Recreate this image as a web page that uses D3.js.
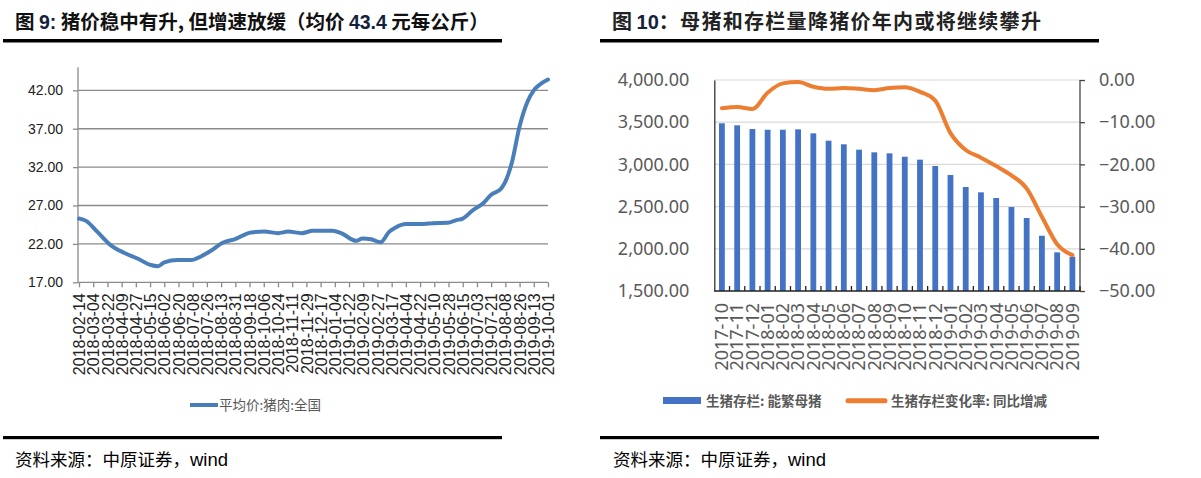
<!DOCTYPE html>
<html>
<head>
<meta charset="utf-8">
<script src="https://cdn.jsdelivr.net/npm/d3@7"></script>
<style>
html,body{margin:0;padding:0;background:#fff;}
svg{display:block;}
</style>
</head>
<body>
<svg id="c" width="1201" height="478"></svg>
<script>
// ---------- Left chart data (平均价:猪肉:全国, 元/公斤) ----------
const priceDates = ["2018-02-14","2018-02-23","2018-03-09","2018-03-26","2018-04-12","2018-04-29","2018-05-16","2018-05-25","2018-06-02","2018-06-19","2018-07-06","2018-07-19","2018-07-31","2018-08-15","2018-08-30","2018-09-20","2018-10-07","2018-10-24","2018-11-06","2018-11-23","2018-12-07","2019-01-01","2019-01-12","2019-01-31","2019-02-08","2019-02-19","2019-03-03","2019-03-14","2019-03-22","2019-04-04","2019-04-27","2019-05-08","2019-05-27","2019-06-07","2019-06-15","2019-06-28","2019-07-11","2019-07-21","2019-08-03","2019-08-08","2019-08-16","2019-08-26","2019-09-05","2019-09-13","2019-09-20","2019-10-01"];
const priceValues = [25.3,25.0,23.6,21.85,20.85,20.1,19.25,19.1,19.6,19.9,19.9,20.4,21.1,22.15,22.6,23.5,23.6,23.4,23.6,23.4,23.7,23.7,23.4,22.4,22.7,22.6,22.2,23.6,24.15,24.6,24.6,24.7,24.75,25.1,25.3,26.4,27.3,28.4,29.25,30.1,32.5,37.3,40.5,42.0,42.7,43.4];
const priceTickLabels = ["2018-02-14","2018-03-04","2018-03-22","2018-04-09","2018-04-27","2018-05-15","2018-06-02","2018-06-20","2018-07-08","2018-07-26","2018-08-13","2018-08-31","2018-09-18","2018-10-06","2018-10-24","2018-11-11","2018-11-29","2018-12-17","2019-01-04","2019-01-22","2019-02-09","2019-02-27","2019-03-17","2019-04-04","2019-04-22","2019-05-10","2019-05-28","2019-06-15","2019-07-03","2019-07-21","2019-08-08","2019-08-26","2019-09-13","2019-10-01"];
const priceYTicks = [17,22,27,32,37,42];

// ---------- Right chart data ----------
const months = ["2017-10","2017-11","2017-12","2018-01","2018-02","2018-03","2018-04","2018-05","2018-06","2018-07","2018-08","2018-09","2018-10","2018-11","2018-12","2019-01","2019-02","2019-03","2019-04","2019-05","2019-06","2019-07","2019-08","2019-09"];
const sowStock = [3487,3463,3419,3411,3411,3415,3368,3281,3238,3174,3143,3131,3091,3056,2981,2874,2732,2669,2602,2495,2365,2155,1958,1906];
const sowYoY = [-6.7,-6.4,-6.9,-3.0,-0.8,-0.5,-1.6,-2.1,-1.9,-2.1,-2.4,-1.9,-1.7,-2.8,-4.9,-12.6,-16.6,-18.4,-20.4,-22.6,-25.7,-32.4,-38.9,-41.5];
const stockTicks = [1500,2000,2500,3000,3500,4000];
const yoyTicks = [-50,-40,-30,-20,-10,0];

const svg = d3.select("#c");
svg.append("rect").attr("width",1201).attr("height",478).attr("fill","#fff");

const CJK = "'Noto Sans CJK SC','Noto Sans',sans-serif";
const ARIAL = "'Liberation Sans',Arial,sans-serif";

// ================= LEFT CHART =================
// Title
const t1 = svg.append("text").attr("x",15).attr("y",29).attr("font-size",19.5).attr("font-weight","bold").attr("fill","#111").style("white-space","pre");
t1.append("tspan").attr("font-family",CJK).text("图 ");
t1.append("tspan").attr("font-family",ARIAL).attr("fill","#14213d").text("9:");
t1.append("tspan").attr("font-family",CJK).text(" 猪价稳中有升, 但增速放缓（均价 ");
t1.append("tspan").attr("font-family",ARIAL).attr("fill","#14213d").text("43.4");
t1.append("tspan").attr("font-family",CJK).text(" 元每公斤）");
svg.append("rect").attr("x",3).attr("y",39).attr("width",499).attr("height",3.5).attr("fill","#000");

const xL = d3.scaleTime().domain([new Date("2018-02-14"), new Date("2019-10-01")]).range([79,548]);
const yL = d3.scaleLinear().domain([17,45]).range([282.3,67.3]);
const gL = svg.append("g");

// gridlines
gL.selectAll("line.grid").data(priceYTicks.filter(d=>d>17)).join("line")
  .attr("x1",78).attr("x2",548).attr("y1",d=>yL(d)).attr("y2",d=>yL(d))
  .attr("stroke","#8a8a8a").attr("stroke-width",1.3);

// y axis
const yAxisL = d3.axisLeft(yL).tickValues(priceYTicks).tickSize(5).tickPadding(10).tickFormat(d3.format(".2f"));
const ya = gL.append("g").attr("transform","translate(78,0)").call(yAxisL);
ya.select(".domain").attr("stroke","#8a8a8a").attr("stroke-width",1.3).attr("d","M0,67.3V282.3");
ya.selectAll(".tick line").attr("stroke","#8a8a8a").attr("stroke-width",1.3);
ya.selectAll(".tick text").attr("font-family",ARIAL).attr("font-size",14).attr("fill","#222");

// x axis
const tickDates = priceTickLabels.map(s=>new Date(s));
const xAxisL = d3.axisBottom(xL).tickValues(tickDates).tickSize(5).tickFormat((d,i)=>priceTickLabels[i]);
const xa = gL.append("g").attr("transform","translate(0,282.3)").call(xAxisL);
xa.select(".domain").attr("stroke","#8a8a8a").attr("stroke-width",1.3).attr("d","M78,0H548");
xa.selectAll(".tick line").attr("stroke","#8a8a8a").attr("stroke-width",1.3);
xa.selectAll(".tick text").attr("font-family",ARIAL).attr("font-size",16).attr("fill","#222")
  .attr("text-anchor","end").attr("transform","rotate(-90)").attr("x",-11).attr("y",0).attr("dy","0.35em");

// line
const lineL = d3.line().x((d,i)=>xL(new Date(priceDates[i]))).y(d=>yL(d)).curve(d3.curveMonotoneX);
gL.append("path").datum(priceValues).attr("d",lineL).attr("fill","none")
  .attr("stroke","#4a7ebb").attr("stroke-width",4).attr("stroke-linejoin","round").attr("stroke-linecap","round");

// legend
gL.append("line").attr("x1",190).attr("x2",218).attr("y1",405).attr("y2",405).attr("stroke","#4a7ebb").attr("stroke-width",4);
gL.append("text").attr("x",219).attr("y",410).attr("font-family",CJK).attr("font-size",13.5).attr("fill","#595959").text("平均价:猪肉:全国");

// source
svg.append("rect").attr("x",3).attr("y",436).attr("width",499).attr("height",3.2).attr("fill","#000");
const s1 = svg.append("text").attr("x",15).attr("y",466).attr("font-size",17.5).attr("fill","#000");
s1.append("tspan").attr("font-family",CJK).text("资料来源：中原证券，");
s1.append("tspan").attr("font-family",ARIAL).attr("font-size",18.5).text("wind");

// ================= RIGHT CHART =================
const t2 = svg.append("text").attr("x",612).attr("y",29).attr("font-size",20).attr("font-weight","bold").attr("fill","#222").style("white-space","pre");
t2.append("tspan").attr("font-family",CJK).text("图 ");
t2.append("tspan").attr("font-family",ARIAL).attr("fill","#14213d").text("10");
t2.append("tspan").attr("font-family",CJK).attr("letter-spacing","1.3px").text("：母猪和存栏量降猪价年内或将继续攀升");
svg.append("rect").attr("x",600).attr("y",39).attr("width",499).attr("height",3.5).attr("fill","#000");

const xR = d3.scaleBand().domain(months).range([714.3,1080]).paddingInner(0.62).paddingOuter(0.31);
const yR1 = d3.scaleLinear().domain([1500,4000]).range([291,80]);
const yR2 = d3.scaleLinear().domain([-50,0]).range([291,80]);
const gR = svg.append("g");

gR.selectAll("line.grid").data(stockTicks.filter(d=>d>1500)).join("line")
  .attr("x1",714.3).attr("x2",1080).attr("y1",d=>yR1(d)).attr("y2",d=>yR1(d))
  .attr("stroke","#d9d9d9").attr("stroke-width",1.2);

// bars
gR.selectAll("rect.bar").data(sowStock).join("rect")
  .attr("x",(d,i)=>xR(months[i])).attr("width",xR.bandwidth())
  .attr("y",d=>yR1(d)).attr("height",d=>yR1(1500)-yR1(d)).attr("fill","#4472c4");

// left axis
const ra = gR.append("g").attr("transform","translate(714.3,0)")
  .call(d3.axisLeft(yR1).tickValues(stockTicks).tickSize(0).tickPadding(25).tickFormat(d3.format(",.2f")));
ra.select(".domain").attr("stroke","#333").attr("stroke-width",1.3);
ra.selectAll(".tick text").attr("font-family","'Noto Sans',sans-serif").attr("font-size",18).attr("fill","#595959");

// right axis
const rb = gR.append("g").attr("transform","translate(1080,0)")
  .call(d3.axisRight(yR2).tickValues(yoyTicks).tickSize(5).tickPadding(14).tickFormat(d3.format(".2f")));
rb.select(".domain").attr("stroke","#444").attr("stroke-width",1.3).attr("d","M0,80V291");
rb.selectAll(".tick line").attr("stroke","#444").attr("stroke-width",1.3);
rb.selectAll(".tick text").attr("font-family","'Noto Sans',sans-serif").attr("font-size",18).attr("fill","#595959");

// bottom axis
const step = xR.step();
const bx = gR.append("g").attr("transform","translate(0,291)")
  .call(d3.axisBottom(xR).tickSize(0).tickPadding(0));
bx.select(".domain").attr("stroke","#222").attr("stroke-width",1.4).attr("d","M714.3,0H1080");
bx.selectAll(".tick").append("line").attr("x1",step/2).attr("x2",step/2).attr("y1",0).attr("y2",-5).attr("stroke","#222").attr("stroke-width",1.3);
bx.selectAll(".tick text").attr("font-family","'Noto Sans',sans-serif").attr("font-size",18).attr("fill","#595959")
  .attr("text-anchor","end").attr("transform","rotate(-90)").attr("x",-12).attr("y",0).attr("dy","0.35em");

// line
const lineR = d3.line().x((d,i)=>xR(months[i])+xR.bandwidth()/2).y(d=>yR2(d)).curve(d3.curveMonotoneX);
gR.append("path").datum(sowYoY).attr("d",lineR).attr("fill","none")
  .attr("stroke","#ed7d31").attr("stroke-width",4).attr("stroke-linejoin","round").attr("stroke-linecap","round");

// legend
gR.append("rect").attr("x",663).attr("y",397).attr("width",38).attr("height",7).attr("fill","#4472c4");
gR.append("text").attr("x",706).attr("y",406).attr("font-family",CJK).attr("font-weight","bold").attr("font-size",13.5).attr("fill","#595959").text("生猪存栏: 能繁母猪");
gR.append("line").attr("x1",848).attr("x2",885).attr("y1",400.7).attr("y2",400.7).attr("stroke","#ed7d31").attr("stroke-width",5).attr("stroke-linecap","round");
gR.append("text").attr("x",891).attr("y",406).attr("font-family",CJK).attr("font-weight","bold").attr("font-size",13.5).attr("fill","#595959").text("生猪存栏变化率: 同比增减");

// source
svg.append("rect").attr("x",600).attr("y",436).attr("width",499).attr("height",3.2).attr("fill","#000");
const s2 = svg.append("text").attr("x",613).attr("y",466).attr("font-size",17.5).attr("fill","#000");
s2.append("tspan").attr("font-family",CJK).text("资料来源：中原证券，");
s2.append("tspan").attr("font-family",ARIAL).attr("font-size",18.5).text("wind");
</script>
</body>
</html>
